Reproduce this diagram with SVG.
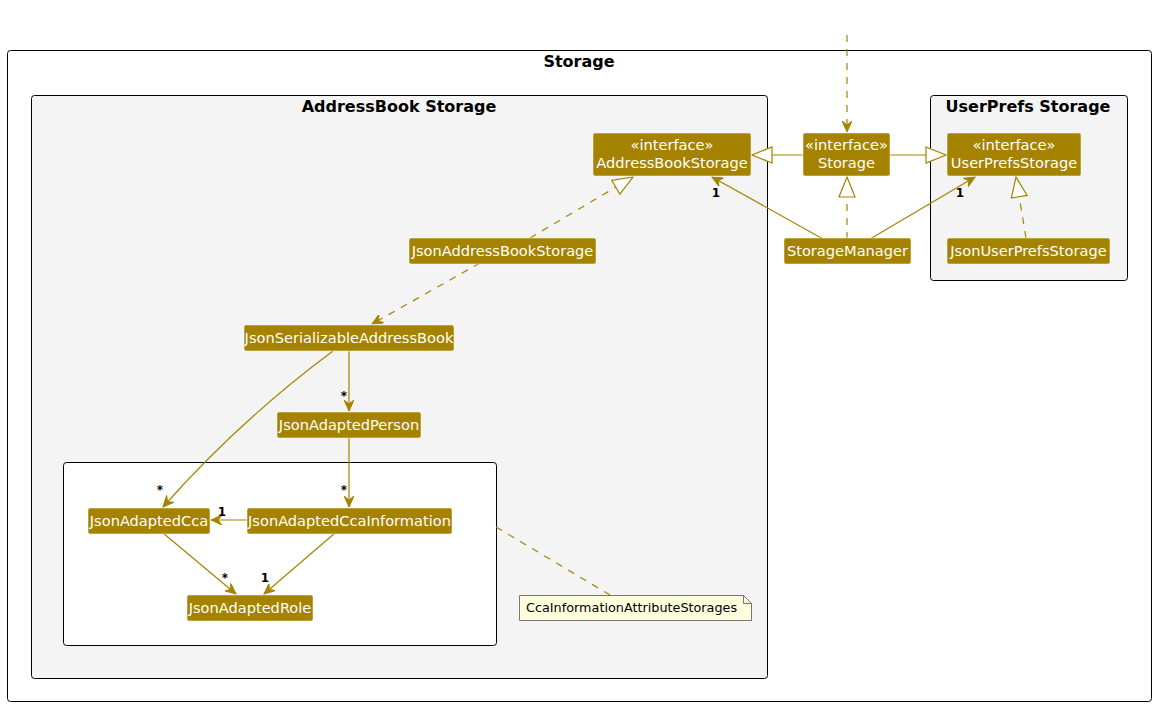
<svg xmlns="http://www.w3.org/2000/svg" width="1155" height="706" viewBox="0 0 1155 706">
<style>
.pkg{stroke:#000;stroke-width:1}
.ptitle{font-family:"DejaVu Sans",sans-serif;font-size:16px;font-weight:bold;fill:#000;text-anchor:middle}
.node rect{fill:#A58300;stroke:#fff;stroke-width:0.5}
.node text{font-family:"DejaVu Sans",sans-serif;font-size:14.6px;fill:#fff;text-anchor:middle}
.ln{stroke:#A58300;stroke-width:1.2;fill:none}
.dash{stroke-dasharray:7,7}
.lbl{font-family:"DejaVu Sans",sans-serif;font-size:12px;font-weight:bold;fill:#000;text-anchor:middle}
</style>
<defs>
<marker id="arr" viewBox="0 0 12 10" markerWidth="12" markerHeight="10" refX="11" refY="5" orient="auto" markerUnits="userSpaceOnUse">
<path d="M0,0 L11,5 L0,10 L4,5 Z" fill="#A58300" stroke="#A58300" stroke-width="1"/>
</marker>
<marker id="tri" viewBox="-1 -1 22 20" markerWidth="22" markerHeight="20" refX="20" refY="9" orient="auto" markerUnits="userSpaceOnUse">
<path d="M0,1 L20,9 L0,17 Z" fill="#fff" stroke="#A58300" stroke-width="1.2"/>
</marker>
</defs>
<rect width="1155" height="706" fill="#fff"/>
<g id="pkg-storage">
<rect class="pkg" x="7.5" y="50.5" width="1144" height="651" rx="3" fill="#fff"/>
<text class="ptitle" x="579" y="67">Storage</text>
</g>
<g id="pkg-addressbook">
<rect class="pkg" x="31.5" y="95.5" width="736" height="583" rx="3" fill="#F3F4F3"/>
<text class="ptitle" x="399" y="112">AddressBook Storage</text>
</g>
<g id="pkg-userprefs">
<rect class="pkg" x="930.5" y="95.5" width="197" height="185" rx="3" fill="#F3F4F3"/>
<text class="ptitle" x="1028" y="112">UserPrefs Storage</text>
</g>
<g id="pkg-ccainfo">
<rect class="pkg" x="63.5" y="462.5" width="433" height="183" rx="3" fill="#fff"/>
</g>
<g id="connectors">
<path class="ln dash" d="M847,35 L847,132" marker-end="url(#arr)"/>
<path class="ln" d="M803,155 L752,155" marker-end="url(#tri)"/>
<path class="ln" d="M890,155 L946,155" marker-end="url(#tri)"/>
<path class="ln dash" d="M847,239 L847,177" marker-end="url(#tri)"/>
<path class="ln" d="M823,239 L712,177" marker-end="url(#arr)"/>
<text class="lbl" x="716" y="197">1</text>
<path class="ln" d="M870,239 L975,177" marker-end="url(#arr)"/>
<text class="lbl" x="960" y="197">1</text>
<path class="ln dash" d="M1026,238 L1016,177" marker-end="url(#tri)"/>
<path class="ln dash" d="M530,238 L633,177" marker-end="url(#tri)"/>
<path class="ln dash" d="M480,263 L372,324" marker-end="url(#arr)"/>
<path class="ln" d="M349,351 L349,411" marker-end="url(#arr)"/>
<text class="lbl" x="344" y="400">*</text>
<path class="ln" d="M333,351 Q240,420 163,507" marker-end="url(#arr)"/>
<text class="lbl" x="160" y="494">*</text>
<path class="ln" d="M349,438 L349,507" marker-end="url(#arr)"/>
<text class="lbl" x="344" y="494">*</text>
<path class="ln" d="M247,520 L211,520" marker-end="url(#arr)"/>
<text class="lbl" x="222" y="516">1</text>
<path class="ln" d="M163,533 L236,594" marker-end="url(#arr)"/>
<text class="lbl" x="225" y="582">*</text>
<path class="ln" d="M335,533 L264,594" marker-end="url(#arr)"/>
<text class="lbl" x="265" y="582">1</text>
<path class="ln dash" d="M496,527 L610,595"/>
</g>
<g id="n-AddressBookStorage" class="node">
<rect x="593" y="133" width="158" height="43" rx="2"/>
<text x="672" y="150">«interface»</text>
<text x="672" y="168">AddressBookStorage</text>
</g>
<g id="n-Storage" class="node">
<rect x="803" y="133" width="87" height="43" rx="2"/>
<text x="846.5" y="150">«interface»</text>
<text x="846.5" y="168">Storage</text>
</g>
<g id="n-UserPrefsStorage" class="node">
<rect x="947" y="133" width="134" height="43" rx="2"/>
<text x="1014" y="150">«interface»</text>
<text x="1014" y="168">UserPrefsStorage</text>
</g>
<g id="n-StorageManager" class="node">
<rect x="784" y="238" width="127" height="26" rx="2"/>
<text x="847.5" y="256">StorageManager</text>
</g>
<g id="n-JsonUserPrefsStorage" class="node">
<rect x="947" y="238" width="163" height="26" rx="2"/>
<text x="1028.5" y="256">JsonUserPrefsStorage</text>
</g>
<g id="n-JsonAddressBookStorage" class="node">
<rect x="409" y="238" width="187" height="26" rx="2"/>
<text x="502.5" y="256">JsonAddressBookStorage</text>
</g>
<g id="n-JsonSerializableAddressBook" class="node">
<rect x="244" y="325" width="210" height="26" rx="2"/>
<text x="349" y="343">JsonSerializableAddressBook</text>
</g>
<g id="n-JsonAdaptedPerson" class="node">
<rect x="277" y="412" width="144" height="26" rx="2"/>
<text x="349" y="430">JsonAdaptedPerson</text>
</g>
<g id="n-JsonAdaptedCca" class="node">
<rect x="88" y="508" width="122" height="26" rx="2"/>
<text x="149" y="526">JsonAdaptedCca</text>
</g>
<g id="n-JsonAdaptedCcaInformation" class="node">
<rect x="247" y="508" width="205" height="26" rx="2"/>
<text x="349.5" y="526">JsonAdaptedCcaInformation</text>
</g>
<g id="n-JsonAdaptedRole" class="node">
<rect x="187" y="595" width="126" height="26" rx="2"/>
<text x="250" y="613">JsonAdaptedRole</text>
</g>
<g id="n-note">
<path d="M519.5,595.5 L743.5,595.5 L751.5,603.5 L751.5,620.5 L519.5,620.5 Z" fill="#FEFFDD" stroke="#555" stroke-width="0.8"/>
<path d="M743.5,595.5 L743.5,603.5 L751.5,603.5" fill="none" stroke="#555" stroke-width="0.8"/>
<text x="526" y="612" font-family="DejaVu Sans,sans-serif" font-size="12.8" fill="#000">CcaInformationAttributeStorages</text>
</g>
</svg>
